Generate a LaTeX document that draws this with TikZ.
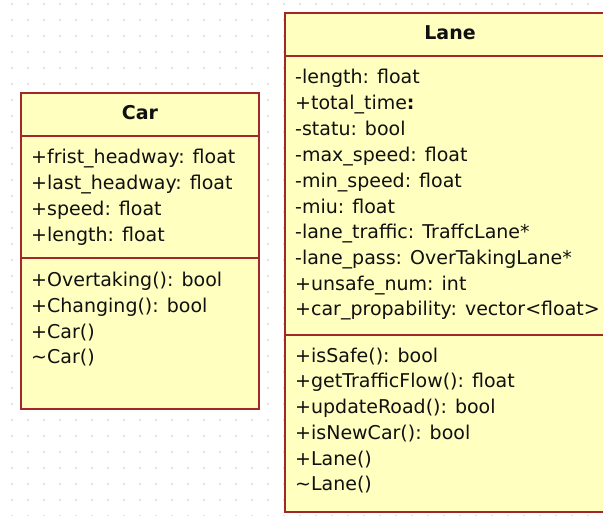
\documentclass[tikz,border=0pt]{standalone}
\usepackage{fontspec}
\setmainfont{DejaVu Sans}
\definecolor{umlfill}{HTML}{FFFFC0}
\definecolor{umlline}{HTML}{A0282A}
\definecolor{griddot}{HTML}{C8C8C8}
\definecolor{umltext}{HTML}{101010}
\tikzset{
  classbox/.style={draw=umlline, line width=2pt, fill=umlfill, rectangle, inner sep=0pt, anchor=north west},
  sepline/.style={draw=umlline, line width=2pt},
  member/.style={anchor=west, inner sep=0pt, text height=14pt, text depth=4pt, text=umltext, font=\fontsize{19}{22}\selectfont},
  title/.style={inner sep=0pt, text height=14pt, text depth=4pt, text=umltext, font=\fontsize{19}{22}\selectfont\bfseries},
}
\begin{document}
\begin{tikzpicture}[x=1pt,y=-1pt]
\useasboundingbox (0,0) rectangle (603,515);
\clip (0,0) rectangle (603,515);
\fill[white] (0,0) rectangle (603,515);
% dotted grid
\foreach \i in {0,...,37}{
  \foreach \j in {0,...,32}{
    \fill[griddot] (12+16*\i,4+16*\j) circle (0.9pt);
  }
}
% Car class
\node[classbox, minimum width=238pt, minimum height=316pt] (car) at (20,92) {};
\draw[sepline] (20,136) -- (258,136);
\draw[sepline] (20,258) -- (258,258);
\node[title] (carT) at (140,114) {Car};
\node[member] (c1) at (31,158) {+frist\_headway: float};
\node[member] (c2) at (31,184) {+last\_headway: float};
\node[member] (c3) at (31,210) {+speed: float};
\node[member] (c4) at (31,236) {+length: float};
\node[member] (c5) at (31,281) {+Overtaking(): bool};
\node[member] (c6) at (31,307) {+Changing(): bool};
\node[member] (c7) at (31,333) {+Car()};
\node[member] (c8) at (31,358) {\textasciitilde Car()};
% Lane class
\node[classbox, minimum width=340pt, minimum height=499pt] (lane) at (284,12) {};
\draw[sepline] (284,56) -- (624,56);
\draw[sepline] (284,335) -- (624,335);
\node[title] (laneT) at (450,34) {Lane};
\node[member] (l1) at (295,78) {-length: float};
\node[member] (l2) at (295,104) {+total\_time\textbf{:}};
\node[member] (l3) at (295,130) {-statu: bool};
\node[member] (l4) at (295,156) {-max\_speed: float};
\node[member] (l5) at (295,182) {-min\_speed: float};
\node[member] (l6) at (295,208) {-miu: float};
\node[member] (l7) at (295,233) {-lane\_traffic: TraffcLane*};
\node[member] (l8) at (295,259) {-lane\_pass: OverTakingLane*};
\node[member] (l9) at (295,285) {+unsafe\_num: int};
\node[member] (l10) at (295,310) {+car\_propability: vector<float>};
\node[member] (m1) at (295,357) {+isSafe(): bool};
\node[member] (m2) at (295,382) {+getTrafficFlow(): float};
\node[member] (m3) at (295,408) {+updateRoad(): bool};
\node[member] (m4) at (295,434) {+isNewCar(): bool};
\node[member] (m5) at (295,460) {+Lane()};
\node[member] (m6) at (295,485) {\textasciitilde Lane()};
\end{tikzpicture}
\end{document}
